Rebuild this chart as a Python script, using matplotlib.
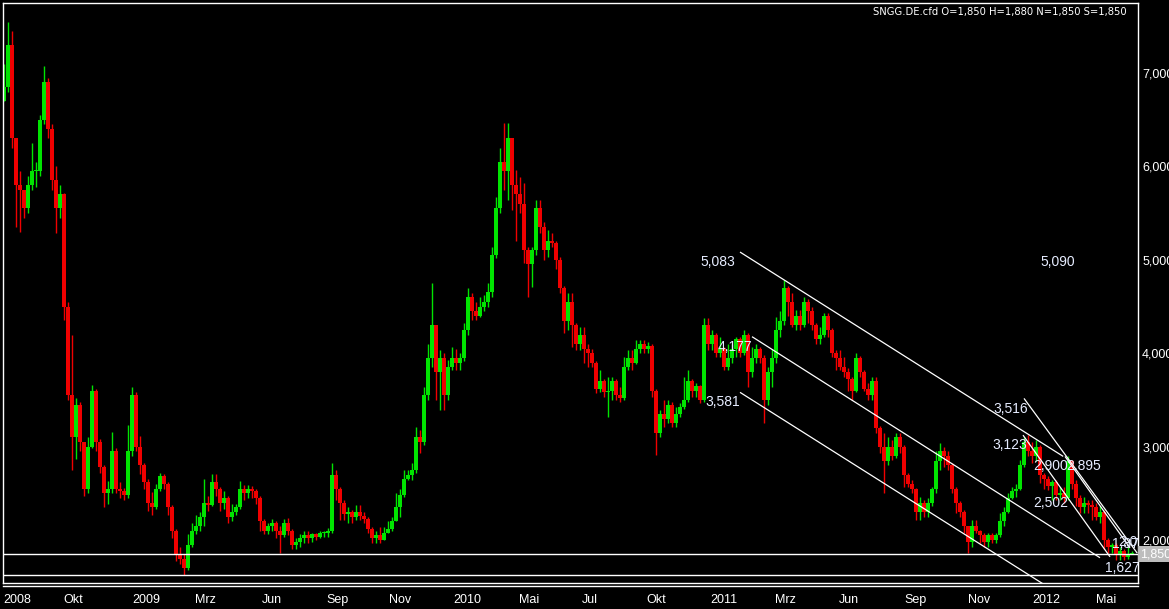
import matplotlib
matplotlib.use("Agg")
import matplotlib.pyplot as plt

# --- daily-ish bars (one bar every ~4 px) ---
closes = [
    6.85, 7.30, 6.30, 5.80, 5.75, 5.55, 5.80, 5.95, 5.95, 6.50,
    6.90, 6.40, 5.85, 5.55, 5.70, 4.50, 3.55, 3.10, 3.45, 3.05,
    2.55, 3.00, 3.60, 3.05, 2.78, 2.50, 2.55, 2.95, 2.55, 2.52,
    2.48, 2.95, 3.55, 3.00, 2.80, 2.62, 2.40, 2.35, 2.55, 2.68,
    2.60, 2.35, 2.10, 1.85, 1.80, 1.70, 1.95, 2.10, 2.15, 2.25,
    2.40, 2.38, 2.62, 2.55, 2.40, 2.45, 2.25, 2.30, 2.35, 2.55,
    2.50, 2.55, 2.52, 2.45, 2.20, 2.10, 2.15, 2.18, 2.10, 2.05,
    2.18, 2.10, 1.95, 1.98, 2.02, 2.05, 2.02, 2.06, 2.03, 2.07,
    2.08, 2.10, 2.70, 2.55, 2.40, 2.28, 2.30, 2.25, 2.30, 2.26,
    2.22, 2.12, 2.02, 2.05, 2.00, 2.08, 2.12, 2.20, 2.35, 2.48,
    2.65, 2.70, 2.75, 3.10, 3.05, 3.55, 3.95, 4.30, 3.80, 3.95,
    3.55, 3.85, 3.95, 3.90, 3.95, 4.25, 4.60, 4.45, 4.40, 4.50,
    4.55, 4.65, 5.05, 5.55, 6.05, 5.95, 6.30, 5.80, 5.70, 5.60,
    5.10, 4.95, 5.10, 5.55, 5.35, 5.10, 5.20, 5.18, 5.00, 4.70,
    4.35, 4.55, 4.30, 4.10, 4.20, 4.05, 4.00, 3.90, 3.62, 3.70,
    3.58, 3.60, 3.70, 3.55, 3.52, 3.85, 3.95, 3.90, 4.05, 4.10,
    4.05, 4.08, 3.60, 3.15, 3.35, 3.30, 3.45, 3.25, 3.35, 3.42,
    3.50, 3.70, 3.60, 3.65, 3.50, 4.30, 4.10, 4.20, 4.00, 4.05,
    3.85, 3.95, 4.05, 4.15, 4.00, 4.20, 3.80, 3.95, 4.05, 3.95,
    3.50, 3.80, 3.95, 4.25, 4.35, 4.70, 4.55, 4.30, 4.40, 4.30,
    4.55, 4.45, 4.30, 4.15, 4.20, 4.40, 4.25, 4.00, 3.95, 3.85,
    3.80, 3.72, 3.60, 3.95, 3.80, 3.62, 3.55, 3.70, 3.20, 3.00,
    2.85, 3.00, 2.90, 3.10, 3.00, 2.70, 2.60, 2.55, 2.30, 2.40,
    2.30, 2.40, 2.55, 2.85, 2.95, 2.90, 2.80, 2.55, 2.40, 2.30,
    2.15, 1.98, 2.15, 2.10, 2.05, 1.98, 2.05, 2.00, 2.05, 2.20,
    2.30, 2.45, 2.52, 2.55, 2.80, 3.05, 2.95, 2.90, 3.00, 2.70,
    2.65, 2.58, 2.62, 2.48, 2.50, 2.45, 2.85, 2.60, 2.45, 2.35,
    2.40, 2.38, 2.35, 2.25, 2.30, 2.00, 1.92, 1.95, 1.85, 1.88,
    1.82, 1.85, 1.85,
]
highs = [
    7.10, 7.55, 7.45, 6.30, 5.95, 5.75, 5.90, 6.25, 6.05, 6.55,
    7.07, 6.95, 6.45, 6.00, 5.80, 5.72, 4.55, 4.20, 3.52, 3.48,
    3.05, 3.10, 3.66, 3.62, 3.08, 2.80, 2.63, 3.16, 2.98, 2.62,
    2.56, 3.23, 3.64, 3.58, 3.11, 2.82, 2.65, 2.51, 2.60, 2.72,
    2.71, 2.62, 2.38, 2.12, 1.92, 1.85, 2.06, 2.18, 2.27, 2.30,
    2.65, 2.47, 2.71, 2.71, 2.57, 2.52, 2.47, 2.39, 2.39, 2.63,
    2.59, 2.59, 2.58, 2.55, 2.47, 2.22, 2.18, 2.22, 2.20, 2.15,
    2.22, 2.24, 2.12, 2.02, 2.06, 2.10, 2.10, 2.08, 2.07, 2.10,
    2.10, 2.13, 2.82, 2.75, 2.57, 2.43, 2.35, 2.32, 2.37, 2.37,
    2.30, 2.25, 2.14, 2.10, 2.14, 2.14, 2.20, 2.25, 2.50, 2.55,
    2.75, 2.75, 2.82, 3.21, 3.18, 3.64, 4.10, 4.75, 4.30, 4.03,
    4.00, 3.93, 4.07, 4.05, 4.00, 4.32, 4.70, 4.64, 4.55, 4.60,
    4.62, 4.75, 5.14, 5.67, 6.20, 6.46, 6.46, 6.30, 5.96, 5.89,
    5.82, 5.14, 5.14, 5.64, 5.64, 5.40, 5.32, 5.29, 5.20, 5.03,
    4.72, 4.64, 4.64, 4.32, 4.28, 4.28, 4.10, 4.05, 3.92, 3.82,
    3.72, 3.75, 3.75, 3.72, 3.64, 3.96, 4.03, 4.03, 4.14, 4.14,
    4.14, 4.12, 4.10, 3.62, 3.39, 3.50, 3.50, 3.48, 3.42, 3.47,
    3.75, 3.82, 3.72, 3.68, 3.66, 4.38, 4.38, 4.25, 4.22, 4.17,
    4.07, 4.10, 4.10, 4.17, 4.17, 4.25, 4.22, 4.07, 4.10, 4.07,
    3.98, 3.85, 4.05, 4.39, 4.45, 4.78, 4.72, 4.64, 4.46, 4.46,
    4.60, 4.58, 4.50, 4.32, 4.28, 4.43, 4.43, 4.27, 4.03, 4.03,
    3.96, 3.84, 3.75, 4.00, 3.97, 3.82, 3.68, 3.75, 3.75, 3.22,
    3.15, 3.10, 3.07, 3.15, 3.15, 3.02, 2.72, 2.64, 2.56, 2.46,
    2.43, 2.45, 2.57, 2.95, 3.04, 3.00, 2.95, 2.82, 2.57, 2.42,
    2.32, 2.15, 2.21, 2.21, 2.11, 2.07, 2.07, 2.07, 2.07, 2.29,
    2.35, 2.50, 2.57, 2.60, 2.86, 3.10, 3.12, 3.05, 3.07, 3.02,
    2.72, 2.68, 2.64, 2.64, 2.57, 2.57, 2.895, 2.86, 2.64, 2.48,
    2.46, 2.43, 2.43, 2.40, 2.36, 2.32, 2.02, 1.97, 1.97, 1.93,
    1.90, 1.93, 1.88,
]
lows = [
    6.75, 6.80, 6.20, 5.35, 5.30, 5.45, 5.50, 5.75, 5.78, 5.90,
    6.45, 6.30, 5.75, 5.29, 5.45, 4.36, 3.50, 2.75, 2.87, 2.95,
    2.47, 2.50, 2.98, 2.95, 2.72, 2.35, 2.39, 2.50, 2.50, 2.45,
    2.43, 2.45, 2.90, 2.95, 2.71, 2.55, 2.31, 2.27, 2.33, 2.52,
    2.55, 2.27, 2.02, 1.78, 1.74, 1.62, 1.68, 1.93, 2.06, 2.10,
    2.15, 2.31, 2.36, 2.47, 2.31, 2.33, 2.18, 2.20, 2.27, 2.33,
    2.43, 2.45, 2.45, 2.39, 2.10, 2.06, 2.06, 2.10, 2.02, 1.86,
    2.03, 2.05, 1.90, 1.90, 1.92, 1.97, 1.97, 1.98, 2.00, 2.02,
    2.03, 2.03, 2.08, 2.43, 2.21, 2.21, 2.18, 2.18, 2.21, 2.21,
    2.18, 2.07, 1.97, 1.97, 1.97, 2.00, 2.07, 2.10, 2.20, 2.25,
    2.46, 2.64, 2.64, 2.72, 2.93, 3.02, 3.50, 3.85, 3.50, 3.39,
    3.39, 3.50, 3.82, 3.82, 3.82, 3.92, 4.20, 4.36, 4.36, 4.39,
    4.45, 4.50, 4.60, 5.02, 5.50, 5.75, 5.64, 5.53, 5.20, 5.50,
    4.97, 4.60, 4.71, 5.05, 5.29, 5.00, 5.03, 5.14, 4.90, 4.64,
    4.22, 4.25, 4.07, 4.03, 4.03, 3.90, 3.85, 3.85, 3.57, 3.58,
    3.53, 3.32, 3.50, 3.50, 3.48, 3.50, 3.82, 3.82, 3.88, 4.00,
    4.00, 4.00, 3.53, 2.91, 3.10, 3.21, 3.25, 3.21, 3.21, 3.32,
    3.40, 3.48, 3.53, 3.53, 3.47, 3.48, 4.03, 4.03, 3.96, 3.96,
    3.82, 3.82, 3.90, 3.96, 3.96, 3.98, 3.64, 3.75, 3.90, 3.90,
    3.25, 3.45, 3.64, 3.90, 4.17, 4.30, 4.40, 4.28, 4.25, 4.25,
    4.28, 4.32, 4.25, 4.10, 4.10, 4.17, 4.17, 3.96, 3.82, 3.82,
    3.75, 3.60, 3.50, 3.58, 3.75, 3.60, 3.50, 3.50, 3.15, 2.93,
    2.50, 2.80, 2.86, 2.88, 2.93, 2.57, 2.57, 2.50, 2.21, 2.21,
    2.25, 2.25, 2.36, 2.50, 2.75, 2.78, 2.75, 2.50, 2.29, 2.25,
    2.07, 1.86, 1.93, 2.07, 1.97, 1.93, 1.93, 1.97, 1.97, 2.03,
    2.15, 2.29, 2.44, 2.46, 2.53, 2.78, 2.90, 2.82, 2.85, 2.61,
    2.55, 2.54, 2.43, 2.43, 2.43, 2.40, 2.43, 2.55, 2.36, 2.29,
    2.29, 2.29, 2.21, 2.21, 2.18, 1.90, 1.86, 1.86, 1.79, 1.79,
    1.79, 1.80, 1.85,
]
first_open = 6.70
opens = [first_open] + closes[:-1]

# date labels and the bar index where each one starts
date_labels = ["2008", "Okt", "2009", "Mrz", "Jun", "Sep", "Nov", "2010", "Mai",
               "Jul", "Okt", "2011", "Mrz", "Jun", "Sep", "Nov", "2012", "Mai"]
date_pos = [-0.25, 14.75, 32, 47.75, 64.5, 80.5, 96.25, 112.25, 128.75,
            144.5, 160.5, 176.5, 192.75, 208.75, 225, 241, 257, 273]

y_ticks = [2, 3, 4, 5, 6, 7]

# drawing tool lines (bar index, price)
trend_lines = [
    [(184, 5.083), (264.8, 2.895)],
    [(187, 4.177), (274, 1.81)],
    [(184, 3.581), (262, 1.47)],
    [(255, 3.516), (283.3, 1.86)],
    [(254.75, 3.123), (276.5, 1.82)],
    [(265.25, 2.895), (281.5, 1.915)],
]
level_lines = [1.85, 1.62]

# price labels written by the drawing tools
price_notes = [
    ("5,083", 174, 4.976), ("5,090", 259, 4.976), ("4,177", 178.5, 4.066),
    ("3,581", 175.25, 3.478), ("3,516", 247.25, 3.403), ("3,123", 247, 3.017),
    ("2,900", 257.25, 2.792), ("2,895", 265.5, 2.792), ("2,502", 257.25, 2.396),
    ("1,627", 275.25, 1.70), ("1,870", 277, 1.957), ("2,002", 278.6, 1.975),
]

GREEN = "#00e400"
RED = "#f00000"
FG = "white"

W, H = 1169, 609
fig = plt.figure(figsize=(W / 100, H / 100), dpi=100, facecolor="black")
ax = fig.add_axes([3 / W, 1 - 583 / H, (1138 - 3) / W, (583 - 3) / H], facecolor="black")

for i, (o, h, l, c) in enumerate(zip(opens, highs, lows, closes)):
    col = GREEN if c >= o else RED
    hi = max(h, o, c)
    lo = min(l, o, c)
    ax.vlines(i, lo, hi, color=col, lw=1.0)
    ax.bar(i, max(abs(c - o), 0.015), bottom=min(o, c), width=0.85, color=col,
           linewidth=0)

for (x0, y0), (x1, y1) in trend_lines:
    ax.plot([x0, x1], [y0, y1], color=FG, lw=0.9, solid_capstyle="butt")
for lv in level_lines:
    ax.axhline(lv, color=FG, lw=1.0)

for txt, x, y in price_notes:
    ax.text(x, y, txt, color="#e6ecff", fontsize=10, family="Liberation Sans",
            ha="left", va="center", clip_on=True)

ax.set_xlim(-0.25, 283.5)
ax.set_ylim(1.5396, 7.7495)

ax.yaxis.tick_right()
ax.set_yticks(y_ticks)
ax.set_yticklabels([f"{v},000" for v in y_ticks])
ax.tick_params(axis="y", length=0, pad=3, labelcolor=FG, labelsize=9)
ax.set_xticks(date_pos)
ax.set_xticklabels(date_labels)
ax.tick_params(axis="x", length=0, pad=8, labelcolor=FG, labelsize=9)
for lab in ax.get_xticklabels():
    lab.set_horizontalalignment("left")
    lab.set_family("Liberation Sans")
for lab in ax.get_yticklabels():
    lab.set_family("Liberation Sans")

for sp in ax.spines.values():
    sp.set_color(FG)
    sp.set_linewidth(1.0)

# current price box on the scale
ax.text(1.002, 1.85, "1,850", transform=ax.get_yaxis_transform(), color="white",
        fontsize=9, family="Liberation Sans", ha="left", va="center",
        bbox=dict(boxstyle="square,pad=0.15", fc="#bdbdbd", ec="none"))

fig.text(873 / W, 1 - 12 / H, "SNGG.DE.cfd O=1,850 H=1,880 N=1,850 S=1,850",
         color=FG, fontsize=7.2, ha="left", va="center")

# double rule under the price pane
fig.add_artist(plt.Line2D([3 / W, 1138 / W], [1 - 586 / H] * 2, color=FG, lw=1.0))

fig.savefig("out.png", dpi=100, facecolor="black")
